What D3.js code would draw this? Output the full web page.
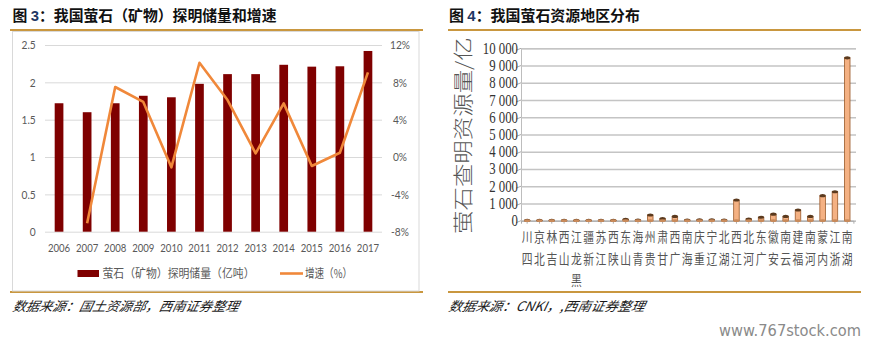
<!DOCTYPE html>
<html><head><meta charset="utf-8">
<script src="https://cdn.jsdelivr.net/npm/d3@7"></script>
<style>body{margin:0;background:#fff;} svg{display:block;}</style>
</head><body><svg id="c" width="874" height="346"></svg>
<script>
// ---------- data ----------
const years = ["2006","2007","2008","2009","2010","2011","2012","2013","2014","2015","2016","2017"];
const reserves = [1.72,1.60,1.72,1.82,1.80,1.98,2.11,2.11,2.235,2.21,2.215,2.42];
const growth = [null,-7.1,7.5,5.9,-1.1,10.1,6.1,0.4,5.75,-0.96,0.46,9.07];
const leftTicks = [0,0.5,1,1.5,2,2.5];
const rightTicks = [-8,-4,0,4,8,12];

const provinces = ["四川","北京","吉林","山西","黑龙江","新疆","江苏","陕西","山东","青海","贵州","甘肃","广西","海南","重庆","辽宁","湖北","江西","河北","广东","安徽","云南","福建","河南","内蒙","浙江","湖南"];
const provinceValues = [20,20,20,20,20,20,20,20,80,30,330,120,250,40,50,50,40,1200,100,200,380,250,620,250,1450,1680,9450];
const provTicks = [0,1000,2000,3000,4000,5000,6000,7000,8000,9000,10000];
const provTickLabels = ["0","1 000","2 000","3 000","4 000","5 000","6 000","7 000","8 000","9 000","10 000"];

const svg = d3.select("#c");
const gold = "#C9973F";
const cjk = "'Noto Sans CJK SC', sans-serif";

// ---------- titles ----------
function title(x, num, rest, len) {
  const t = svg.append("text").attr("x", x).attr("y", 21)
    .attr("font-family", cjk).attr("font-weight", 700).attr("font-size", 15)
    .attr("fill", "#111").attr("textLength", len).attr("lengthAdjust","spacingAndGlyphs");
  t.append("tspan").text("图 ");
  t.append("tspan").attr("fill", "#1F3864").attr("font-family","'Liberation Sans',sans-serif").text(num);
  t.append("tspan").text(rest);
}
title(12.5, "3", "：我国萤石（矿物）探明储量和增速", 264);
title(449, "4", "：我国萤石资源地区分布", 191);

// gold rules
[[10,423],[448,861]].forEach(([a,b]) => {
  svg.append("line").attr("x1",a).attr("x2",b).attr("y1",30).attr("y2",30).attr("stroke",gold).attr("stroke-width",2);
  svg.append("line").attr("x1",a).attr("x2",b).attr("y1",292).attr("y2",292).attr("stroke",gold).attr("stroke-width",2);
});
// left box
svg.append("rect").attr("x",12.5).attr("y",31.5).attr("width",406.5).attr("height",259.5)
  .attr("fill","none").attr("stroke","#d9d9d9").attr("stroke-width",1);

// ---------- left panel ----------
const x = d3.scaleBand().domain(years).range([45,382]).paddingInner(0.69).paddingOuter(0.345);
const yL = d3.scaleLinear().domain([0,2.5]).range([231.7,45]);
const yR = d3.scaleLinear().domain([-8,12]).range([231.7,45]);

const gGrid = svg.append("g").attr("transform","translate(45,0)")
  .call(d3.axisLeft(yL).tickValues(leftTicks).tickSize(-337).tickFormat(""));
gGrid.select(".domain").remove();
gGrid.selectAll("line").attr("stroke","#d9d9d9");

svg.append("g").selectAll("rect").data(years).join("rect")
  .attr("x", d => x(d)).attr("width", x.bandwidth())
  .attr("y", (d,i) => yL(reserves[i])).attr("height", (d,i) => yL(0) - yL(reserves[i]))
  .attr("fill","#7F0000");

const lineData = years.map((d,i) => ({y:d, v:growth[i]})).filter(d => d.v !== null);
svg.append("path").datum(lineData)
  .attr("d", d3.line().x(d => x(d.y) + x.bandwidth()/2).y(d => yR(d.v)))
  .attr("fill","none").attr("stroke","#F0883A").attr("stroke-width",2.6).attr("stroke-linejoin","round");

const tickFont = "Lato, 'Liberation Sans', sans-serif";
const aL = svg.append("g").attr("transform","translate(40,0)")
  .call(d3.axisLeft(yL).tickValues(leftTicks).tickSize(0).tickPadding(5).tickFormat(d3.format("")));
aL.select(".domain").remove();
aL.selectAll("text").attr("font-family",tickFont).attr("font-size",12).attr("fill","#595959")
  .attr("transform","scale(0.85,1)");
const aR = svg.append("g").attr("transform","translate(400,0)")
  .call(d3.axisRight(yR).tickValues(rightTicks).tickSize(0).tickPadding(0).tickFormat(d => d + "%"));
aR.select(".domain").remove();
aR.selectAll("text").attr("font-family",tickFont).attr("font-size",12).attr("fill","#595959")
  .attr("text-anchor","middle").attr("x",0).attr("transform","scale(0.85,1)");
const aX = svg.append("g").attr("transform","translate(0,240)")
  .call(d3.axisBottom(x).tickSize(0).tickPadding(3));
aX.select(".domain").remove();
aX.selectAll("text").attr("font-family",tickFont).attr("font-size",12).attr("fill","#595959")
  .attr("transform","scale(0.8,1)");

// legend
const lg = svg.append("g").attr("font-family",cjk).attr("font-size",12).attr("fill","#595959");
lg.append("rect").attr("x",77.5).attr("y",270).attr("width",21.5).attr("height",7).attr("fill","#7F0000");
lg.append("text").attr("x",102.5).attr("y",277.5).attr("textLength",152).attr("lengthAdjust","spacingAndGlyphs").text("萤石（矿物）探明储量（亿吨）");
lg.append("line").attr("x1",280).attr("x2",303).attr("y1",273.5).attr("y2",273.5).attr("stroke","#F0883A").attr("stroke-width",2.6);
lg.append("text").attr("x",305).attr("y",277.5).attr("textLength",47).attr("lengthAdjust","spacingAndGlyphs").text("增速（%）");

// sources
function source(x0, txt, len) {
  svg.append("text").attr("x",x0).attr("y",311).attr("font-family",cjk).attr("font-size",13)
    .attr("font-style","italic").attr("fill","#1a1a1a").attr("textLength",len)
    .attr("lengthAdjust","spacingAndGlyphs").attr("transform",`skewX(-12) translate(${311*Math.tan(12*Math.PI/180)},0)`).text(txt);
}
source(12, "数据来源：国土资源部，西南证券整理", 226);
source(448, "数据来源：CNKI，,西南证券整理", 196);

// ---------- right panel ----------
const px = d3.scaleBand().domain(provinces).range([521,853.4]).paddingInner(0.55).paddingOuter(0.275);
const py = d3.scaleLinear().domain([0,10000]).range([220.7,48.3]);

const pg = svg.append("g").attr("transform","translate(521,0)")
  .call(d3.axisLeft(py).tickValues(provTicks).tickSize(-335).tickFormat(""));
pg.select(".domain").attr("stroke","#bdbdbd");
pg.selectAll(".tick line").attr("stroke","#c4c4c4").attr("stroke-width",1.4);
svg.append("g").selectAll("line").data(provTicks).join("line")
  .attr("x1",516).attr("x2",521).attr("y1",d => py(d)+2).attr("y2",d => py(d))
  .attr("stroke","#aaa").attr("stroke-width",1);
const pb = svg.append("g").attr("transform","translate(0,220.7)")
  .call(d3.axisBottom(px).tickSize(3).tickFormat(""));
pb.select(".domain").attr("stroke","#aaa");
pb.selectAll("line").attr("stroke","#aaa");

// y labels (condensed serif)
svg.append("g").selectAll("text").data(provTicks).join("text")
  .attr("transform", d => `translate(518,${py(d)+5.5}) scale(0.8,1)`)
  .attr("text-anchor","end").attr("font-family","'Liberation Serif', serif").attr("font-size",16)
  .attr("fill","#333").text((d,i) => provTickLabels[i]);

// y title (rotated, clipped at top)
svg.append("defs").append("clipPath").attr("id","clipT")
  .append("rect").attr("x",440).attr("y",39).attr("width",60).attr("height",200);
svg.append("g").attr("clip-path","url(#clipT)")
  .append("text")
  .attr("transform","translate(471,234) rotate(-90)")
  .attr("font-family",cjk).attr("font-size",20).attr("font-weight",300).attr("fill","#555")
  .attr("textLength",205).attr("lengthAdjust","spacingAndGlyphs")
  .text("萤石查明资源量/亿t");

// bars (cylinders)
const bw = px.bandwidth();
const bars = svg.append("g").selectAll("g").data(provinces).join("g");
bars.append("rect")
  .attr("x", d => px(d)).attr("width", bw)
  .attr("y", (d,i) => py(provinceValues[i])).attr("height", (d,i) => py(0) - py(provinceValues[i]))
  .attr("fill","#F4B183").attr("stroke","#9a5a2a").attr("stroke-width",0.8);
bars.append("ellipse")
  .attr("cx", d => px(d) + bw/2).attr("cy", (d,i) => py(provinceValues[i]))
  .attr("rx", bw/2 + 0.3).attr("ry", 1.6).attr("fill","#5b3a1e");
bars.append("ellipse")
  .attr("cx", d => px(d) + bw/2).attr("cy", py(0))
  .attr("rx", bw/2 + 0.3).attr("ry", 1.4).attr("fill","#c98a5a");

// x labels: stacked characters, bottom-to-top reading
const xl = svg.append("g").attr("font-family",cjk).attr("font-size",10.8).attr("fill","#555");
provinces.forEach(p => {
  const chars = Array.from(p).reverse();
  chars.forEach((ch,j) => {
    xl.append("text")
      .attr("transform", `translate(${px(p)+bw/2},${242 + j*21.5}) scale(1,1.25)`)
      .attr("text-anchor","middle").text(ch);
  });
});

// watermark
svg.append("text").attr("x",719).attr("y",336).attr("font-family","'DejaVu Sans', sans-serif")
  .attr("font-size",15).attr("fill","#8a8a8a").attr("textLength",142).attr("lengthAdjust","spacingAndGlyphs")
  .text("www.767stock.com");
</script></body></html>
